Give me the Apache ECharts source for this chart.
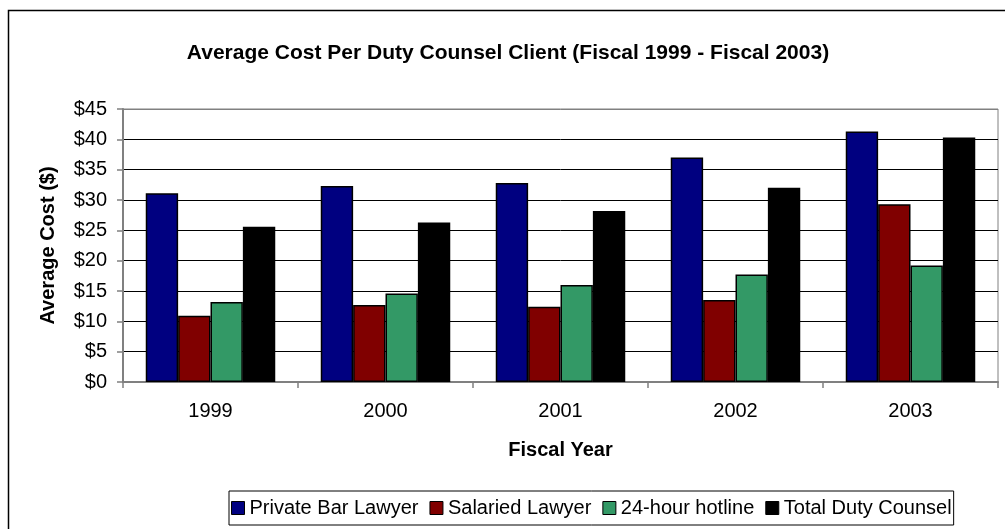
<!DOCTYPE html>
<html>
<head>
<meta charset="utf-8">
<script src="https://cdn.jsdelivr.net/npm/echarts@6/dist/echarts.min.js"></script>
<style>
	html, body { margin: 0; padding: 0; background: #fff; }
	#chart { width: 1005px; height: 529px; }
</style>
</head>
<body>
<div id="chart"></div>
<script>
// 数据
var years = ['1999', '2000', '2001', '2002', '2003'];
var privateBar = [31.1, 32.3, 32.8, 37.0, 41.3];
var salaried = [10.9, 12.7, 12.4, 13.5, 29.3];
var hotline = [13.2, 14.6, 16.0, 17.7, 19.2];
var totalDuty = [25.6, 26.3, 28.2, 32.0, 40.3];
var seriesNames = ['Private Bar Lawyer', 'Salaried Lawyer', '24-hour hotline', 'Total Duty Counsel'];
var seriesColors = ['#000080', '#800000', '#339966', '#000000'];

var font = "'Liberation Sans', Arial, sans-serif";

function makeBar(i, data) {
	return {
		name: seriesNames[i],
		type: 'bar',
		data: data,
		barGap: '0%',
		barCategoryGap: '26%',
		itemStyle: {
			color: seriesColors[i],
			borderColor: '#000',
			borderWidth: 1.5
		}
	};
}

var gridColors = ['#000', '#000', '#000', '#000', '#000', '#000', '#000', '#000', '#000', '#808080'];

var myChart = echarts.init(document.getElementById('chart'));
var option = {
	backgroundColor: '#fff',
	animation: false,
	graphic: [{
		type: 'rect',
		shape: { x: 8.5, y: 10.5, width: 1010, height: 540 },
		style: { fill: 'none', stroke: '#000', lineWidth: 1.5 },
		silent: true
	}],
	title: {
		text: 'Average Cost Per Duty Counsel Client (Fiscal 1999 - Fiscal 2003)',
		left: 503,
		top: 38,
		textAlign: 'center',
		textStyle: {
			fontFamily: font,
			fontSize: 21,
			fontWeight: 'bold',
			color: '#000'
		}
	},
	legend: {
		data: seriesNames,
		left: 229,
		top: 491,
		orient: 'horizontal',
		icon: 'rect',
		itemWidth: 13,
		itemHeight: 13,
		itemGap: 11,
		padding: [7, 2],
		borderColor: '#000',
		borderWidth: 1,
		itemStyle: { borderColor: '#000', borderWidth: 1 },
		textStyle: {
			fontFamily: font,
			fontSize: 20,
			color: '#000'
		}
	},
	grid: {
		left: 123,
		right: 7,
		top: 109,
		bottom: 147,
		show: true,
		borderColor: '#808080',
		borderWidth: 1,
		containLabel: false
	},
	xAxis: {
		type: 'category',
		data: years,
		name: 'Fiscal Year',
		nameLocation: 'middle',
		nameGap: 58,
		nameTextStyle: {
			fontFamily: font,
			fontSize: 20,
			fontWeight: 'bold',
			color: '#000'
		},
		axisLine: { lineStyle: { color: '#808080', width: 2 } },
		axisTick: { show: true, length: 6, lineStyle: { color: '#808080', width: 1.5 } },
		axisLabel: {
			margin: 19,
			fontFamily: font,
			fontSize: 20,
			color: '#000'
		}
	},
	yAxis: {
		type: 'value',
		min: 0,
		max: 45,
		interval: 5,
		name: 'Average Cost ($)',
		nameLocation: 'middle',
		nameGap: 65,
		nameTextStyle: {
			fontFamily: font,
			fontSize: 20,
			fontWeight: 'bold',
			color: '#000'
		},
		axisLine: { show: true, lineStyle: { color: '#808080', width: 2 } },
		axisTick: { show: true, length: 6, lineStyle: { color: '#808080', width: 1.5 } },
		axisLabel: {
			margin: 16,
			fontFamily: font,
			fontSize: 20,
			color: '#000',
			formatter: function(v) { return '$' + v; }
		},
		splitLine: { show: true, lineStyle: { color: gridColors, width: 1 } }
	},
	series: [
		makeBar(0, privateBar),
		makeBar(1, salaried),
		makeBar(2, hotline),
		makeBar(3, totalDuty)
	]
};
myChart.setOption(option);
</script>
</body>
</html>
